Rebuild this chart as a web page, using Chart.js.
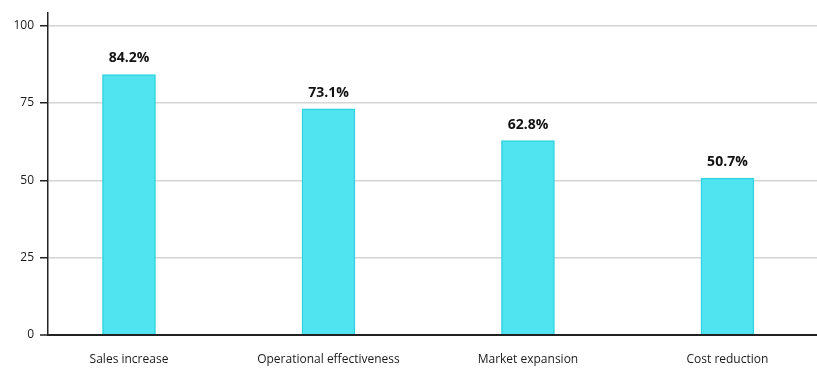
<!DOCTYPE html>
<html>
<head>
<meta charset="utf-8">
<script src="https://cdn.jsdelivr.net/npm/chart.js@4.4.1/dist/chart.umd.min.js"></script>
<style>
  html, body { margin: 0; padding: 0; background: #fff; }
  #wrap { width: 817px; height: 372px; }
</style>
</head>
<body>
<div id="wrap"><canvas id="benefitChart"></canvas></div>
<script>
// Chart data
const categories = ['Sales increase', 'Operational effectiveness', 'Market expansion', 'Cost reduction'];
const values = [84.2, 73.1, 62.8, 50.7];
const yTicks = [0, 25, 50, 75, 100];

const fontFamily = '"Open Sans", "Noto Sans", sans-serif';

// Writes the percentage above each bar
const valueLabels = {
    id: 'valueLabels',
    afterDatasetsDraw(chart) {
        const ctx = chart.ctx;
        const meta = chart.getDatasetMeta(0);
        ctx.save();
        ctx.font = 'bold 14px ' + fontFamily;
        ctx.fillStyle = '#111';
        ctx.textAlign = 'center';
        ctx.textBaseline = 'bottom';
        meta.data.forEach((bar, i) => {
            ctx.fillText(values[i].toFixed(1) + '%', bar.x, bar.y - 9);
        });
        ctx.restore();
    }
};

const ctx = document.getElementById('benefitChart').getContext('2d');
const benefitChart = new Chart(ctx, {
    type: 'bar',
    data: {
        datasets: [{
            data: values.map((v, i) => ({ x: i, y: v })),
            backgroundColor: '#50e4f0',
            borderColor: '#2fd3df',
            borderWidth: 1.5,
            barThickness: 53
        }]
    },
    options: {
        responsive: true,
        maintainAspectRatio: false,
        animation: false,
        layout: { padding: { top: 12, right: 0, left: 0, bottom: 0 } },
        plugins: {
            legend: { display: false },
            tooltip: { enabled: false }
        },
        scales: {
            x: {
                type: 'linear',
                offset: false,
                min: -0.406,
                max: 3.449,
                afterBuildTicks: scale => {
                    scale.ticks = categories.map((c, i) => ({ value: i }));
                },
                afterFit: scale => { scale.height = 37; },
                ticks: {
                    callback: value => categories[value],
                    color: '#1a1a1a',
                    font: { family: fontFamily, size: 12 },
                    padding: 17,
                    maxRotation: 0
                },
                grid: { display: false, drawTicks: false },
                border: { display: true, color: '#222', width: 2 }
            },
            y: {
                min: 0,
                max: 104,
                afterBuildTicks: scale => {
                    scale.ticks = yTicks.map(v => ({ value: v }));
                },
                afterFit: scale => { scale.width = 48; },
                ticks: {
                    color: '#1a1a1a',
                    font: { family: fontFamily, size: 12 },
                    padding: 6
                },
                grid: {
                    color: ctx => ctx.tick && ctx.tick.value === 0 ? '#222' : '#d4d4d4',
                    lineWidth: ctx => ctx.tick && ctx.tick.value === 0 ? 2 : 1.5,
                    tickColor: '#222',
                    tickLength: 8,
                    tickWidth: 1.5
                },
                border: { display: true, color: '#222', width: 1.5 }
            }
        }
    },
    plugins: [valueLabels]
});
</script>
</body>
</html>
